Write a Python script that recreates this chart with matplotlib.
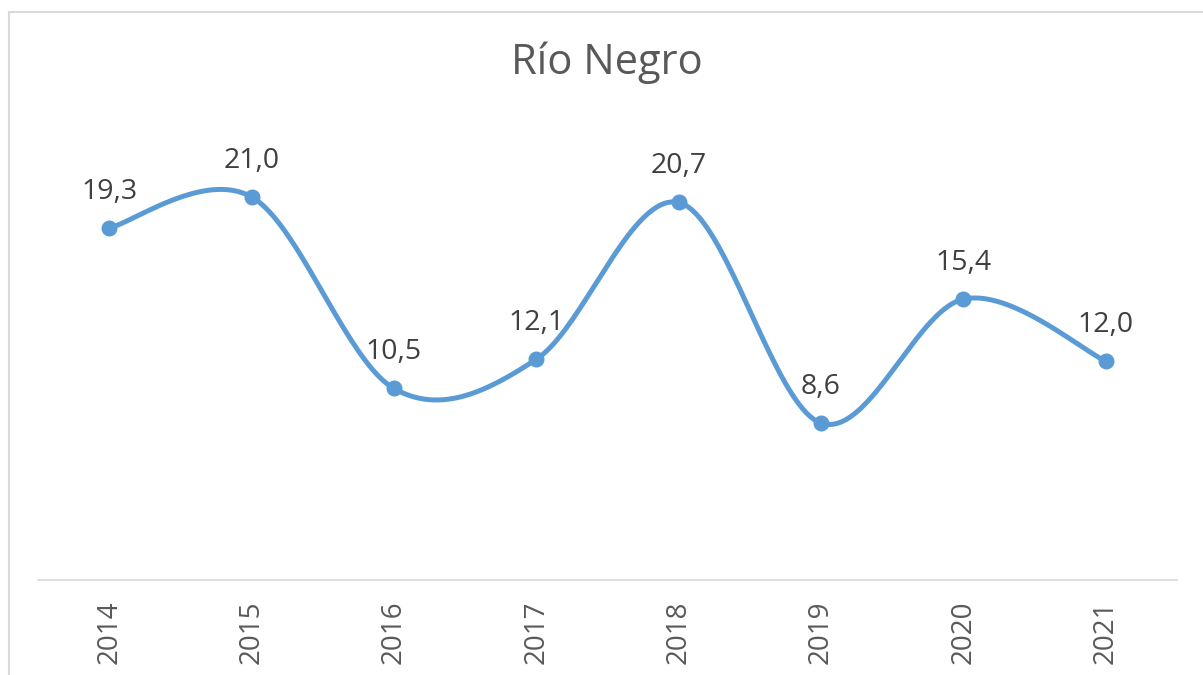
import numpy as np
import matplotlib.pyplot as plt
from matplotlib.lines import Line2D

plt.rcParams['font.family'] = ['Open Sans', 'DejaVu Sans']

# Data
years = ["2014", "2015", "2016", "2017", "2018", "2019", "2020", "2021"]
values = [19.3, 21.0, 10.5, 12.1, 20.7, 8.6, 15.4, 12.0]
labels = ["19,3", "21,0", "10,5", "12,1", "20,7", "8,6", "15,4", "12,0"]

line_color = "#5B9BD5"


def smooth_curve(x, y, n=40):
    # Bezier segments with Catmull-Rom style control points (like Excel "smoothed line")
    x = np.asarray(x, float)
    y = np.asarray(y, float)
    px = np.concatenate([[x[0]], x, [x[-1]]])
    py = np.concatenate([[y[0]], y, [y[-1]]])
    t = np.linspace(0, 1, n)
    xs, ys = [], []
    for i in range(len(x) - 1):
        p0 = np.array([px[i + 1], py[i + 1]])
        p3 = np.array([px[i + 2], py[i + 2]])
        c1 = p0 + (p3 - np.array([px[i], py[i]])) / 6
        c2 = p3 - (np.array([px[i + 3], py[i + 3]]) - p0) / 6
        b = ((1 - t) ** 3)[:, None] * p0 + (3 * (1 - t) ** 2 * t)[:, None] * c1 \
            + (3 * (1 - t) * t ** 2)[:, None] * c2 + (t ** 3)[:, None] * p3
        xs.append(b[:, 0])
        ys.append(b[:, 1])
    return np.concatenate(xs), np.concatenate(ys)


fig = plt.figure(figsize=(12.03, 6.75), dpi=100)
ax = fig.add_axes([38 / 1203, 95 / 675, 1139 / 1203, 456 / 675])

xpos = np.arange(len(years))
sx, sy = smooth_curve(xpos, values)
ax.plot(sx, sy, color=line_color, lw=3.6, solid_capstyle='round', zorder=2)
ax.plot(xpos, values, 'o', color=line_color, ms=10.5, zorder=3)

for xi, v, lab in zip(xpos, values, labels):
    ax.annotate(lab, (xi, v), xytext=(0, 26), textcoords='offset points',
                ha='center', va='center', fontsize=20.5, color='#404040')

ax.set_xlim(-0.5, len(years) - 0.5)
ax.set_ylim(0, 25)
ax.set_xticks(xpos)
ax.set_xticklabels(years, rotation=90, fontsize=20, color='#595959')
ax.tick_params(axis='x', length=0, pad=15)
ax.set_yticks([])
for s in ['top', 'right', 'left']:
    ax.spines[s].set_visible(False)
ax.spines['bottom'].set_color('#D9D9D9')
ax.spines['bottom'].set_linewidth(1.2)

fig.text(607 / 1203, 1 - 63 / 675, "Río Negro", ha='center', va='center',
         fontsize=30, color='#595959')

# outer chart border (partially visible in the reference)
fig.add_artist(Line2D([8.5 / 1203, 1], [1 - 12 / 675, 1 - 12 / 675],
                      transform=fig.transFigure, color='#D9D9D9', lw=1.5))
fig.add_artist(Line2D([8.5 / 1203, 8.5 / 1203], [0, 1 - 12 / 675],
                      transform=fig.transFigure, color='#D9D9D9', lw=1.5))

fig.savefig("out.png", dpi=100)
